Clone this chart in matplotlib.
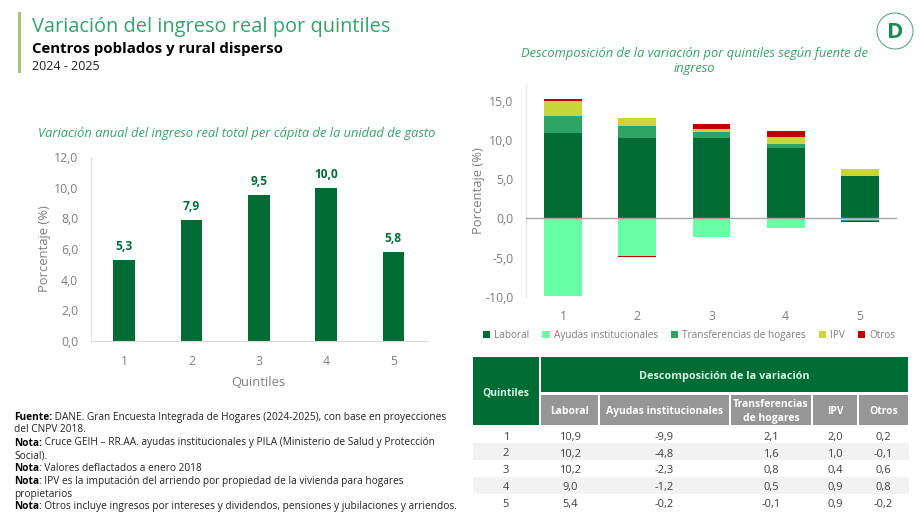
import matplotlib
matplotlib.use("Agg")
import matplotlib.pyplot as plt
from matplotlib.patches import Rectangle, Circle

plt.rcParams['font.family'] = ['Open Sans', 'DejaVu Sans']

W, H = 922, 518

quintiles = ['1', '2', '3', '4', '5']
total = [5.3, 7.9, 9.5, 10.0, 5.8]
laboral = [10.9, 10.2, 10.2, 9.0, 5.4]
ayudas = [-9.9, -4.8, -2.3, -1.2, -0.2]
transferencias = [2.1, 1.6, 0.8, 0.5, -0.1]
ipv = [2.0, 1.0, 0.4, 0.9, 0.9]
otros = [0.2, -0.1, 0.6, 0.8, -0.2]

series_names = ['Laboral', 'Ayudas institucionales', 'Transferencias de hogares', 'IPV', 'Otros']
series_vals = [laboral, ayudas, transferencias, ipv, otros]
series_cols = ['#006C35', '#66FFA6', '#2EA464', '#C8D63C', '#C00000']

notes = [
    ('Fuente:', ' DANE. Gran Encuesta Integrada de Hogares (2024-2025), con base en proyecciones'),
    ('', 'del CNPV 2018.'),
    ('Nota:', ' Cruce GEIH – RR.AA. ayudas institucionales y PILA (Ministerio de Salud y Protección'),
    ('', 'Social).'),
    ('Nota', ': Valores deflactados a enero 2018'),
    ('Nota', ': IPV es la imputación del arriendo por propiedad de la vivienda para hogares'),
    ('', 'propietarios'),
    ('Nota', ': Otros incluye ingresos por intereses y dividendos, pensiones y jubilaciones y arriendos.'),
]
note_y = [420, 432.5, 445.5, 458, 471, 484, 497, 509]

GREEN = '#006C35'
TITLE = '#36A26B'
GREY = '#7F7F7F'


def px_axes(x0, y0, x1, y1):
    return fig.add_axes([x0 / W, 1 - y1 / H, (x1 - x0) / W, (y1 - y0) / H])


fig = plt.figure(figsize=(W / 100, H / 100), dpi=100, facecolor='white')

# capa para textos y tabla, en pixeles
bg = fig.add_axes([0, 0, 1, 1], zorder=5)
bg.set_xlim(0, W)
bg.set_ylim(H, 0)
bg.axis('off')
bg.patch.set_alpha(0)

# encabezado
bg.add_patch(Rectangle((18, 12), 3, 61, color='#A9C47F', lw=0))
bg.text(32, 27, 'Variación del ingreso real por quintiles', fontsize=14.4, color=TITLE, va='center')
bg.text(32, 49, 'Centros poblados y rural disperso', fontsize=10.8, color='black', weight='bold', va='center')
bg.text(32, 67, '2024 - 2025', fontsize=9, color='#222222', va='center')

bg.text(236.5, 134, 'Variación anual del ingreso real total per cápita de la unidad de gasto',
        fontsize=9.25, color=TITLE, style='italic', ha='center', va='center')
bg.text(694.5, 61, 'Descomposición de la variación por quintiles según fuente de\ningreso',
        fontsize=9.25, color=TITLE, style='italic', ha='center', va='center', linespacing=1.25)

# logo
bg.add_patch(Circle((895, 31), 18, fill=False, ec='#4E9F7A', lw=0.7))
bg.text(895, 32, 'D', fontsize=16, weight='bold', color='#1E8A50', ha='center', va='center')

# barras totales
ax = px_axes(90.5, 157, 427, 341)
x = range(len(quintiles))
ax.bar(x, total, width=0.32, color=GREEN)
for i, v in enumerate(total):
    ax.text(i, v + 0.45, f'{v:.1f}'.replace('.', ','), ha='center', va='bottom',
            fontsize=8.6, weight='bold', color=GREEN)
ax.set_xlim(-0.5, 4.5)
ax.set_ylim(0, 12)
ax.set_xticks(list(x), quintiles)
ax.set_yticks([0, 2, 4, 6, 8, 10, 12], [f'{v:.1f}'.replace('.', ',') for v in [0, 2, 4, 6, 8, 10, 12]])
ax.set_xlabel('Quintiles', fontsize=9.4, color=GREY, labelpad=6)
ax.set_ylabel('Porcentaje (%)', fontsize=9.4, color=GREY, labelpad=2)
ax.tick_params(axis='y', length=0, labelsize=8.8, labelcolor=GREY, pad=9)
ax.tick_params(axis='x', length=0, labelsize=8.8, labelcolor=GREY, pad=10)
for s in ['top', 'right']:
    ax.spines[s].set_visible(False)
ax.spines['left'].set_color('#E4E4E4')
ax.spines['bottom'].set_color('#D9D9D9')

# barras apiladas
ax2 = px_axes(526, 85, 897, 297)
pos = [0.0] * 5
neg = [0.0] * 5
for name, vals, col in zip(series_names, series_vals, series_cols):
    bottoms = [pos[i] if v >= 0 else neg[i] for i, v in enumerate(vals)]
    ax2.bar(x, vals, width=0.51, bottom=bottoms, color=col, label=name)
    for i, v in enumerate(vals):
        if v >= 0:
            pos[i] += v
        else:
            neg[i] += v
ax2.axhline(0, color='#A6A6A6', lw=1, zorder=3)
ax2.set_xlim(-0.5, 4.5)
ax2.set_ylim(-10, 17)
ax2.set_xticks(list(x), quintiles)
ax2.set_yticks([-10, -5, 0, 5, 10, 15], ['-10,0', '-5,0', '0,0', '5,0', '10,0', '15,0'])
ax2.set_ylabel('Porcentaje (%)', fontsize=9.4, color=GREY, labelpad=0)
ax2.tick_params(length=0, labelsize=8.8, labelcolor=GREY, pad=9)
ax2.tick_params(axis='x', pad=9)
for s in ['top', 'right', 'bottom']:
    ax2.spines[s].set_visible(False)
ax2.spines['left'].set_color('#E4E4E4')
fig.legend(*ax2.get_legend_handles_labels(), loc='center', bbox_to_anchor=(689 / W, 1 - 335.5 / H), ncol=5,
           frameon=False, fontsize=7.2, labelcolor=GREY, handlelength=0.75, handleheight=0.75,
           handletextpad=0.4, columnspacing=1.27, borderpad=0)

# tabla
col_x = [(541, 598), (600, 729), (731, 811), (813, 857), (859, 908)]
col_names = ['Laboral', 'Ayudas institucionales', 'Transferencias\nde hogares', 'IPV', 'Otros']
row_y = [437.5, 454, 470.5, 487.5, 504.5]

bg.add_patch(Rectangle((473, 357), 65.5, 68, color=GREEN, lw=0))
bg.add_patch(Rectangle((541, 357), 367, 35, color=GREEN, lw=0))
bg.text(505.7, 393, 'Quintiles', fontsize=7.5, weight='bold', color='#D5F5E3', ha='center', va='center')
bg.text(724.5, 377, 'Descomposición de la variación', fontsize=7.8, weight='bold', color='#D5F5E3',
        ha='center', va='center')
for (x0, x1), name in zip(col_x, col_names):
    bg.add_patch(Rectangle((x0, 394.5), x1 - x0, 30.5, color='#969696', lw=0))
    bg.text((x0 + x1) / 2, 411.5, name, fontsize=7.5, weight='bold', color='white', ha='center', va='center',
            linespacing=1.3)

bg.add_patch(Rectangle((473, 442.7), 436, 17.3, color='#F2F2F2', lw=0))
bg.add_patch(Rectangle((473, 477), 436, 17, color='#F2F2F2', lw=0))
for i, y in enumerate(row_y):
    bg.text(506, y, quintiles[i], fontsize=8, color='#404040', ha='center', va='center')
    for (x0, x1), vals in zip(col_x, series_vals):
        bg.text((x0 + x1) / 2 if x0 != 541 else 570, y, f'{vals[i]:.1f}'.replace('.', ','), fontsize=8,
                color='#404040', ha='center', va='center')

# notas
rend = fig.canvas.get_renderer()
for (b, t), y in zip(notes, note_y):
    xp = 14
    if b:
        tb = bg.text(xp, y, b, fontsize=7.3, weight='bold', color='black', va='baseline')
        xp = tb.get_window_extent(rend).x1
    bg.text(xp, y, t, fontsize=7.3, color='#222222', va='baseline')

fig.savefig('out.png', dpi=100)
